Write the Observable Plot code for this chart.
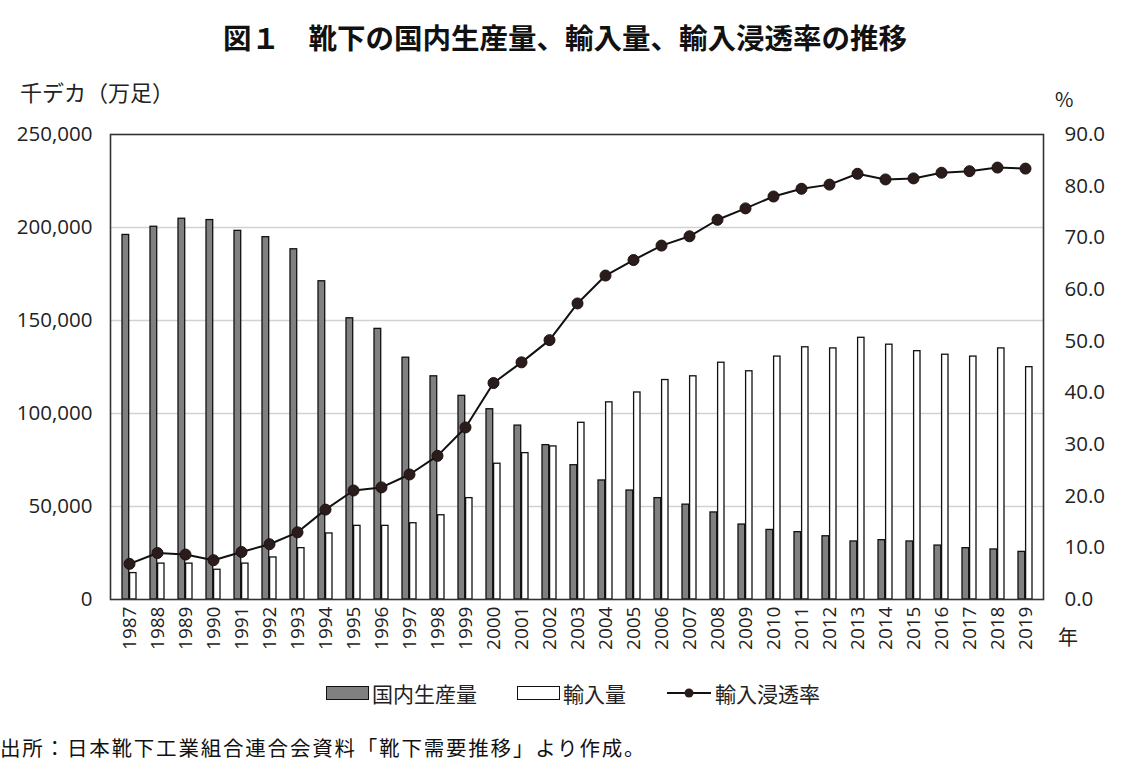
<!DOCTYPE html>
<html><head><meta charset="utf-8">
<script src="https://cdn.jsdelivr.net/npm/d3@7"></script>
<script src="https://cdn.jsdelivr.net/npm/@observablehq/plot@0.6"></script>
<style>
body{margin:0;background:#fff;}
#wrap{position:relative;width:1137px;height:775px;overflow:hidden;background:#fff;}
#chart{position:absolute;left:0;top:0;}
.t{position:absolute;white-space:nowrap;color:#222;font-family:"Noto Sans CJK JP",sans-serif;line-height:1;}
.leg{position:absolute;top:678px;left:0;width:1146px;display:flex;justify-content:center;align-items:center;font-family:"Noto Sans CJK JP",sans-serif;font-size:21px;color:#222;}
.leg span.item{display:flex;align-items:center;margin:0 20px;}
.sw{display:inline-block;width:43px;height:14px;border:1.5px solid #111;margin-right:3px;box-sizing:border-box;}
</style></head>
<body><div id="wrap">
<div class="t" style="left:0;width:1130px;text-align:center;top:23px;font-size:28.5px;font-weight:bold;color:#111;">図１　靴下の国内生産量、輸入量、輸入浸透率の推移</div>
<div class="t" style="left:20px;top:80px;font-size:22px;">千デカ（万足）</div>
<div class="t" style="left:1055px;top:89px;font-size:20px;">%</div>
<div class="t" style="left:1058px;top:627px;font-size:20px;">年</div>
<div id="chart"></div>
<div class="leg">
  <span class="item"><span class="sw" style="background:#808080"></span>国内生産量</span>
  <span class="item"><span class="sw" style="background:#fff"></span>輸入量</span>
  <span class="item"><svg width="46" height="14" style="margin-right:3px"><line x1="1" y1="7" x2="45" y2="7" stroke="#111" stroke-width="2"/><circle cx="23" cy="7" r="4.5" fill="#2b1c1c"/></svg>輸入浸透率</span>
</div>
<div class="t" style="left:0;top:737px;font-size:20.5px;letter-spacing:1.8px;color:#111;">出所：日本靴下工業組合連合会資料「靴下需要推移」より作成。</div>
</div>
<script>
const years = ["1987","1988","1989","1990","1991","1992","1993","1994","1995","1996","1997","1998","1999","2000","2001","2002","2003","2004","2005","2006","2007","2008","2009","2010","2011","2012","2013","2014","2015","2016","2017","2018","2019"];
const production = [196000,200400,204700,204000,198200,194800,188300,171100,151200,145500,130000,120000,109500,102300,93500,83000,72200,64000,58600,54500,51000,46800,40300,37400,36200,34000,31200,31900,31200,29000,27600,26900,25600];
const imports = [14200,19300,19300,16000,19300,22600,27600,35500,39600,39600,41000,45300,54500,73000,78700,82300,95000,106000,111300,118000,120000,127300,122700,130600,135600,135000,140700,137000,133500,131600,130600,135000,124900];
const rate = [6.9,9.0,8.7,7.6,9.2,10.7,13.0,17.4,21.1,21.7,24.2,27.8,33.3,41.9,45.9,50.2,57.3,62.7,65.7,68.5,70.3,73.5,75.7,78.0,79.5,80.3,82.4,81.3,81.5,82.6,82.9,83.6,83.4];
const leftTicks = [0,50000,100000,150000,200000,250000];
const gridTicks = [50000,100000,150000,200000];
const rightTicks = [0,10,20,30,40,50,60,70,80,90];
const leftMax = 250000, rightMax = 90;
const K = leftMax / rightMax;

const rows = years.map((y,i)=>({year:y, prod:production[i], imp:imports[i], rate:rate[i]}));

const chart = Plot.plot({
  width:1137, height:775,
  marginLeft:110, marginRight:94, marginTop:134, marginBottom:176,
  style:{fontFamily:'"Open Sans","Noto Sans CJK JP",sans-serif', fontSize:"20.5px", color:"#222", background:"transparent"},
  x:{type:"band", domain:years, paddingInner:0.5, paddingOuter:0.25, label:null, axis:null},
  y:{domain:[0,leftMax], label:null, axis:null},
  marks:[
    Plot.ruleY(gridTicks,{stroke:"#d2d2d2",strokeWidth:1.6}),
    Plot.barY(rows,{x:"year",y:"prod",fill:"#808080",stroke:"#111",strokeWidth:1.3,insetRight:7.3}),
    Plot.barY(rows,{x:"year",y:"imp",fill:"#fff",stroke:"#111",strokeWidth:1.3,insetLeft:7.6}),
    Plot.frame({stroke:"#333",strokeWidth:1.6}),
    Plot.line(rows,{x:"year",y:d=>d.rate*K,stroke:"#111",strokeWidth:2}),
    Plot.dot(rows,{x:"year",y:d=>d.rate*K,r:5.5,fill:"#2b1c1c",stroke:"#1a1010",strokeWidth:1}),
    Plot.axisY({ticks:leftTicks, tickFormat:d3.format(","), anchor:"left", tickSize:0, tickPadding:18, label:null}),
    Plot.axisY({ticks:rightTicks.map(r=>r*K), tickFormat:d=>(d/K).toFixed(1), anchor:"right", tickSize:0, tickPadding:21, label:null}),
    Plot.axisX({tickRotate:-90, tickSize:0, tickPadding:7, label:null, fontSize:19})
  ]
});
document.getElementById("chart").appendChild(chart);
</script>
</body></html>
